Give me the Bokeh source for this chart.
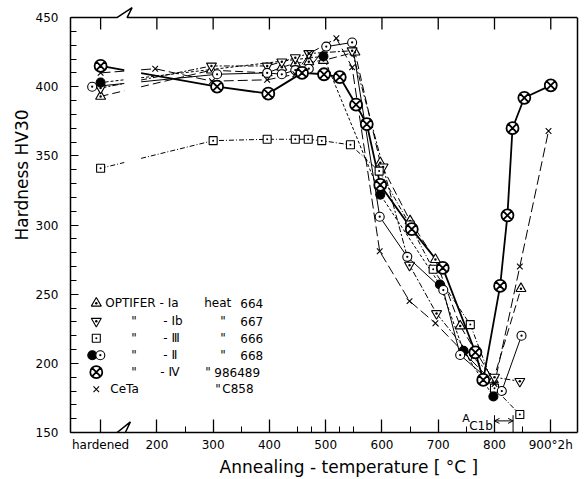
import numpy as np
from bokeh.plotting import figure
from bokeh.models import Range1d, FixedTicker, LinearAxis, Arrow, OpenHead, Title
from bokeh.core.properties import value
from bokeh.embed import file_html
from bokeh.resources import INLINE

# ---------------- data ----------------
x_ticks = [100, 200, 300, 400, 500, 600, 700, 800, 900]
x_minor = [250, 350, 450, 475, 525, 550, 650, 750, 850]
x_tick_labels = {100: "hardened", 900: "900°2h"}
y_ticks = [150, 200, 250, 300, 350, 400, 450]
y_minor = list(range(150, 451, 10))

ia_t = [100, 297, 396, 422, 446, 470, 496, 552, 597, 650, 695, 739, 798, 847]
ia_hv = [393, 412, 410, 414, 417, 418, 419, 425, 345, 303, 275, 227, 188, 254]

ib_t = [100, 297, 396, 422, 446, 470, 547, 602, 649, 697, 757, 800, 845]
ib_hv = [399, 415, 415, 418, 421, 424, 426, 342, 271, 236, 206, 190, 187]

iii_t = [100, 300, 396, 446, 469, 493, 544, 595, 650, 691, 757, 800, 845]
iii_hv = [341, 361, 362, 362, 362, 361, 358, 339, 300, 268, 228, 182, 163]

ii_f_t = [100, 496, 597, 703, 745, 798]
ii_f_hv = [403, 422, 322, 257, 209, 176]

ii_o_t = [85, 307, 396, 422, 446, 470, 501, 547, 596, 645, 709, 739, 813, 848]
ii_o_hv = [400, 409, 410, 409, 412, 413, 429, 432, 306, 277, 253, 206, 180, 220]

iv_t = [100, 307, 398, 458, 497, 525, 554, 573, 597, 653, 708, 766, 780, 810, 823, 832, 853, 900]
iv_hv = [415, 400, 395, 410, 409, 407, 387, 373, 329, 297, 269, 208, 188, 256, 307, 370, 392, 401]

ceta_t = [100, 197, 298, 396, 446, 471, 519, 547, 596, 649, 695, 800, 845, 896]
ceta_hv = [410, 413, 404, 405, 409, 424, 435, 414, 281, 245, 229, 185, 270, 368]

ac1b_range = [800, 833]

legend_rows = [
    ["OPTIFER - Ia", "heat", "664"],
    ['"', "- Ib", '"', "667"],
    ['"', "- Ⅲ", '"', "666"],
    ['"', "- Ⅱ", '"', "668"],
    ['"', "- Ⅳ", '"', "986489"],
    ["CeTa", '"', "C858"],
]

# ---------------- layout helpers (page pixel -> data) ----------------
def dx(px):
    return 200 + (px - 156.6) / 0.5629

def dy(py):
    return 150 + (432.3 - py) / 1.3833

FONT = "DejaVu Sans"
BREAK_L, BREAK_R = 142, 172
PX_Y = 1 / 1.3833  # data units per vertical pixel
X0, X1 = 46.5, 947.5
Y0, Y1 = 150, 450

p = figure(width=587, height=479, x_range=Range1d(X0, X1), y_range=Range1d(Y0, 458),
           output_backend="svg", toolbar_location=None,
           min_border_left=70, min_border_right=10, min_border_top=6, min_border_bottom=47)
p.xgrid.visible = False
p.ygrid.visible = False
p.outline_line_color = None
p.background_fill_color = "white"

xa = p.xaxis[0]
xa.ticker = FixedTicker(ticks=x_ticks, minor_ticks=x_minor)
xa.major_label_overrides = x_tick_labels
xa.major_tick_in = 13
xa.major_tick_out = 0
xa.minor_tick_in = 6
xa.minor_tick_out = 0
xa.axis_line_width = 1.5
xa.major_tick_line_width = 1.3
xa.major_label_standoff = 5
xa.major_label_text_font = FONT
xa.major_label_text_font_size = "12px"
xa.major_label_text_color = "black"

ya = p.yaxis[0]
ya.ticker = FixedTicker(ticks=y_ticks, minor_ticks=y_minor)
ya.bounds = (Y0, Y1)
ya.major_tick_in = 8
ya.major_tick_out = 0
ya.minor_tick_in = 6
ya.minor_tick_out = 0
ya.axis_line_width = 1.5
ya.major_label_standoff = 12
ya.major_label_text_font = FONT
ya.major_label_text_font_size = "12px"
ya.major_label_text_color = "black"

right = LinearAxis(ticker=FixedTicker(ticks=[]), bounds=(Y0, Y1), axis_line_width=1.5,
                   major_tick_line_color=None, minor_tick_line_color=None)
p.add_layout(right, "right")

# axis titles, placed off-centre as in the original
p.add_layout(Title(text="Annealing - temperature [ °C ]", align="left", offset=149, standoff=0,
                   text_font=FONT, text_font_size="17px", text_font_style="normal",
                   text_color="black"), "below")
p.add_layout(Title(text="Hardness HV30", align="left", offset=192, standoff=2,
                   text_font=FONT, text_font_size="17px", text_font_style="normal",
                   text_color="black"), "left")

# top frame edge with axis-break zigzag, and inward top ticks
p.line([X0, 129.0, 156.0, 147.0, X1], [Y1, Y1, 457.2, Y1, Y1], line_color="black", line_width=1.5)
p.segment(x0=x_ticks, y0=[Y1] * len(x_ticks), x1=x_ticks, y1=[Y1 - 12 * PX_Y] * len(x_ticks),
          line_color="black", line_width=1.3)
# bottom axis-break zigzag
p.line([129.3, 152.9, 144.0], [Y0, 157.7, Y0], line_color="black", line_width=1.5)

series = [
    dict(t=ia_t, h=ia_hv, marker="triangle_dot", size=10, fill="white", dash="8 4", lw=1),
    dict(t=ib_t, h=ib_hv, marker="inverted_triangle", size=10, fill="white", dash="6 2 2 2", lw=1, dot=True),
    dict(t=iii_t, h=iii_hv, marker="square_dot", size=8, fill="white", dash="5 2 1 2", lw=1),
    dict(t=ii_f_t, h=ii_f_hv, marker="circle", size=9, fill="black", dash="3 2", lw=1),
    dict(t=ii_o_t, h=ii_o_hv, marker="circle_dot", size=9, fill="white", dash="solid", lw=1),
    dict(t=ceta_t, h=ceta_hv, marker="x", size=8, fill="white", dash="10 4", lw=1),
    dict(t=iv_t, h=iv_hv, marker="circle_x", size=12, fill="white", dash="solid", lw=1.8),
]

for s in series:
    t = np.array(s["t"], dtype=float)
    h = np.array(s["h"], dtype=float)
    y_l = float(np.interp(BREAK_L, t, h))
    y_r = float(np.interp(BREAK_R, t, h))
    p.line([t[0], BREAK_L], [h[0], y_l], line_color="black", line_width=s["lw"], line_dash=s["dash"])
    p.line([BREAK_R] + list(t[1:]), [y_r] + list(h[1:]), line_color="black",
           line_width=s["lw"], line_dash=s["dash"])

for s in series:
    lw = 1.8 if s["marker"] == "circle_x" else 1.1
    p.scatter(s["t"], s["h"], marker=s["marker"], size=s["size"], fill_color=s["fill"],
              line_color="black", line_width=lw)
    if s.get("dot"):
        p.scatter(s["t"], s["h"], marker="dot", size=s["size"], line_color="black", fill_color="black")

# A_C1b annotation
p.add_layout(Arrow(x_start=ac1b_range[0], y_start=158.4, x_end=ac1b_range[1], y_end=158.4,
                   start=OpenHead(size=5, line_width=1), end=OpenHead(size=5, line_width=1), line_width=1))
p.segment(x0=ac1b_range, y0=[Y0, Y0], x1=ac1b_range, y1=[162.5, 162.5], line_color="black", line_width=1)
p.text(x=[dx(462)], y=[dy(418)], text=["A"], text_font=value(FONT), text_font_size=value("11px"),
       text_baseline="alphabetic", text_color="black")
p.text(x=[dx(469)], y=[dy(425.5)], text=["C1b"], text_font=value(FONT), text_font_size=value("12px"),
       text_baseline="alphabetic", text_color="black")

# legend
row_y = [303, 321, 338, 355, 372, 389]
row_x = [
    [105, 204, 240],
    [131, 163, 220, 240],
    [131, 163, 220, 240],
    [131, 163, 220, 240],
    [131, 160, 205, 214],
    [110, 215, 222],
]
lx, ly, lt = [], [], []
for r, xs in enumerate(row_x):
    for xp, txt in zip(xs, legend_rows[r]):
        lx.append(dx(xp))
        ly.append(dy(row_y[r]))
        lt.append(txt)
p.text(x=lx, y=ly, text=lt, text_font=value(FONT), text_font_size=value("12px"),
       text_baseline="middle", text_color="black")

leg_markers = [("triangle_dot", 96, 10, "white"), ("inverted_triangle", 96, 10, "white"),
               ("square_dot", 96, 8, "white"), ("circle", 92, 9, "black"),
               ("circle_x", 96, 12, "white"), ("x", 96, 8, "white")]
for r, (m, xp, sz, fc) in enumerate(leg_markers):
    lw = 1.8 if m == "circle_x" else 1.1
    p.scatter([dx(xp)], [dy(row_y[r])], marker=m, size=sz, fill_color=fc, line_color="black", line_width=lw)
p.scatter([dx(96)], [dy(row_y[1])], marker="dot", size=10, line_color="black")
p.scatter([dx(100)], [dy(row_y[3])], marker="circle_dot", size=9, fill_color="white",
          line_color="black", line_width=1.1)

open("out.html", "w").write(file_html(p, INLINE))
